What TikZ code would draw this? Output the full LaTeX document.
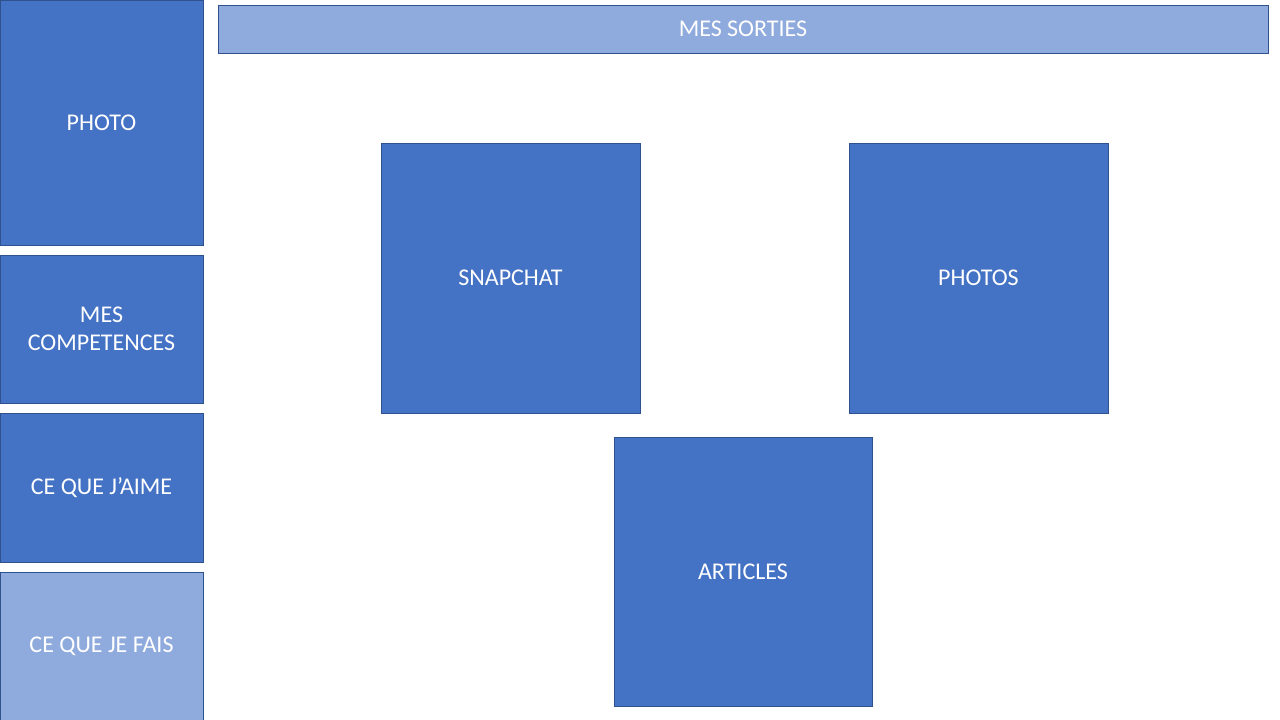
\documentclass[tikz,border=0pt]{standalone}
\usepackage{fontspec}
\setmainfont{Carlito}
\definecolor{tuile}{HTML}{4472C4}
\definecolor{tuilepale}{HTML}{8FAADC}
\definecolor{bord}{HTML}{2F528F}
\tikzset{
	tuile/.style={draw=bord, fill=tuile, line width=0.8pt, inner sep=0pt, text=white, font=\fontsize{24}{28}\selectfont, align=center},
	pale/.style={tuile, fill=tuilepale}
}

\begin{document}
\begin{tikzpicture}[x=1pt, y=-1pt]
			%%%%% START %%%%%
			
			\useasboundingbox (0, 0) rectangle (1280, 720);
			\clip (0, 0) rectangle (1280, 720);
			
			\node[tuile, minimum width=203, minimum height=245] (photo) at (101.5, 122.5) {PHOTO};
			\node[tuile, minimum width=203, minimum height=148] (competences) at (101.5, 329) {MES\\COMPETENCES};
			\node[tuile, minimum width=203, minimum height=149] (aime) at (101.5, 487.5) {CE QUE J'AIME};
			\node[pale, minimum width=203, minimum height=148] (fais) at (101.5, 646) {CE QUE JE FAIS};
			
			\node[pale, minimum width=1050, minimum height=48] (sorties) at (743, 29) {MES SORTIES};
			
			\node[tuile, minimum width=259, minimum height=270] (snapchat) at (510.5, 278) {SNAPCHAT};
			\node[tuile, minimum width=259, minimum height=270] (photos) at (978.5, 278) {PHOTOS};
			\node[tuile, minimum width=258, minimum height=269] (articles) at (743, 571.5) {ARTICLES};
			
			%%%%% END %%%%%
		\end{tikzpicture}
\end{document}
